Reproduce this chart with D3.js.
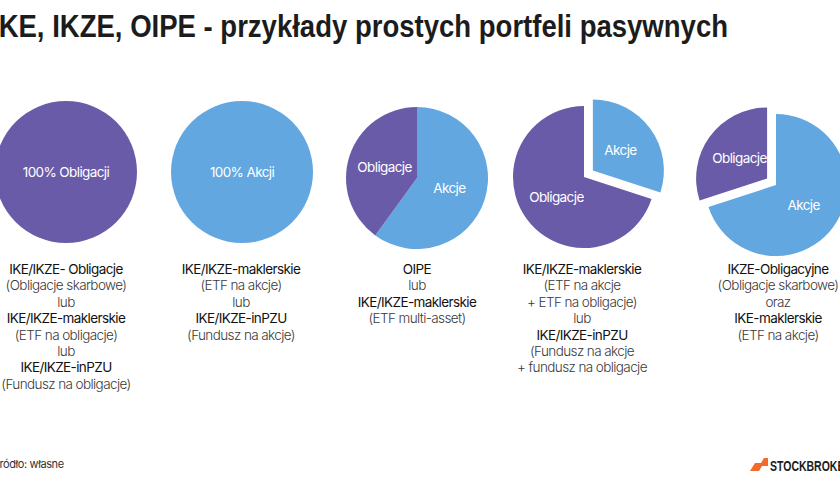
<!DOCTYPE html>
<html>
<head>
<meta charset="utf-8">
<script src="https://cdn.jsdelivr.net/npm/d3@7/dist/d3.min.js"></script>
<style>
  body { margin: 0; background: #fff; }
  svg { display: block; }
</style>
</head>
<body>
<div id="chart"></div>
<script>
// portfolio data
const portfolios = ['p1', 'p2', 'p3', 'p4', 'p5'];
const akcje = [0, 100, 60, 30, 70];
const obligacje = [100, 0, 40, 70, 30];
const exploded = [null, null, null, 'Akcje', 'Obligacje'];
const fullLabels = ['100% Obligacji', '100% Akcji', null, null, null];

// text under each pie, '*' marks the darker product names
const descriptions = [
  ['*IKE/IKZE- Obligacje', '(Obligacje skarbowe)', 'lub', '*IKE/IKZE-maklerskie', '(ETF na obligacje)', 'lub', '*IKE/IKZE-inPZU', '(Fundusz na obligacje)'],
  ['*IKE/IKZE-maklerskie', '(ETF na akcje)', 'lub', '*IKE/IKZE-inPZU', '(Fundusz na akcje)'],
  ['*OIPE', 'lub', '*IKE/IKZE-maklerskie', '(ETF multi-asset)'],
  ['*IKE/IKZE-maklerskie', '(ETF na akcje', '+ ETF na obligacje)', 'lub', '*IKE/IKZE-inPZU', '(Fundusz na akcje', '+ fundusz na obligacje'],
  ['*IKZE-Obligacyjne', '(Obligacje skarbowe)', 'oraz', '*IKE-maklerskie', '(ETF na akcje)']
];

const width = 840;
const height = 480;
const radius = 71;
const font = 'Inter, "Liberation Sans", sans-serif';

const colors = { Akcje: '#62a7e0', Obligacje: '#6a5ba9' };

// layout
const xPos = d3.scaleOrdinal().domain(portfolios).range([66, 242, 417, 584, 776]);
const yPos = d3.scaleOrdinal().domain(portfolios).range([172, 172, 178, 177, 185]);
const textX = d3.scaleOrdinal().domain(portfolios).range([66, 241, 417, 582, 778]);

const svg = d3.select('#chart').append('svg')
  .attr('width', width)
  .attr('height', height);

// title (cut at the left edge like the original)
svg.append('text')
  .attr('x', -9)
  .attr('y', 37)
  .attr('textLength', 737)
  .attr('lengthAdjust', 'spacingAndGlyphs')
  .style('font-family', '"Liberation Sans", Arial, sans-serif')
  .style('font-weight', 700)
  .style('font-size', '31px')
  .style('fill', '#1c1c1c')
  .text('IKE, IKZE, OIPE - przykłady prostych portfeli pasywnych');

const pie = d3.pie().sort(null).value(d => d.value);
const arc = d3.arc().innerRadius(0).outerRadius(radius);
const labelArc = d3.arc().innerRadius(0).outerRadius(radius * 0.96);

portfolios.forEach((id, i) => {
  const g = svg.append('g')
    .attr('transform', 'translate(' + xPos(id) + ',' + yPos(id) + ')');

  const slices = [
    { name: 'Akcje', value: akcje[i] },
    { name: 'Obligacje', value: obligacje[i] }
  ].filter(d => d.value > 0);

  const arcs = pie(slices);

  const sg = g.selectAll('g.slice')
    .data(arcs)
    .enter()
    .append('g')
    .attr('class', 'slice')
    .attr('transform', d => {
      if (d.data.name !== exploded[i]) return null;
      const mid = (d.startAngle + d.endAngle) / 2;
      return 'translate(' + (Math.sin(mid) * 11) + ',' + (-Math.cos(mid) * 11) + ')';
    });

  sg.append('path')
    .attr('d', arc)
    .style('fill', d => colors[d.data.name]);

  if (fullLabels[i]) {
    g.append('text')
      .attr('text-anchor', 'middle')
      .attr('dy', '0.35em')
      .style('font-family', font)
      .style('font-size', '13.5px')
      .style('letter-spacing', '-0.6px')
      .style('fill', '#fff')
      .text(fullLabels[i]);
  } else {
    sg.append('text')
      .attr('transform', d => 'translate(' + labelArc.centroid(d) + ')')
      .attr('text-anchor', 'middle')
      .attr('dy', '0.35em')
      .style('font-family', font)
      .style('font-size', '13.5px')
      .style('letter-spacing', '-0.6px')
      .style('fill', '#fff')
      .text(d => d.data.name);
  }

  // description under the pie
  const t = svg.append('text')
    .attr('text-anchor', 'middle')
    .style('font-family', font)
    .style('font-size', '13.5px')
    .style('letter-spacing', '-0.6px');

  descriptions[i].forEach((line, j) => {
    const strong = line.startsWith('*');
    t.append('tspan')
      .attr('x', textX(id))
      .attr('y', 274 + j * 16.4)
      .style('font-weight', strong ? 400 : 300)
      .style('fill', strong ? '#111' : '#3a3a3a')
      .text(strong ? line.slice(1) : line);
  });
});

// footer (cut at the edges like the original)
svg.append('text')
  .attr('x', -7)
  .attr('y', 468)
  .style('font-family', font)
  .style('font-size', '11px')
  .style('letter-spacing', '-0.4px')
  .style('fill', '#333')
  .text('Źródło: własne');

svg.append('path')
  .attr('d', 'M750,471 L755,463 L761,463 L764,458 L768,458 L768,466 L762,466 L759,471 Z')
  .style('fill', '#f26a2c');

svg.append('text')
  .attr('x', 770)
  .attr('y', 471)
  .attr('textLength', 82)
  .attr('lengthAdjust', 'spacingAndGlyphs')
  .style('font-family', '"Liberation Sans", Arial, sans-serif')
  .style('font-weight', 700)
  .style('font-size', '15px')
  .style('fill', '#1c1c1c')
  .text('STOCKBROKER');
</script>
</body>
</html>
